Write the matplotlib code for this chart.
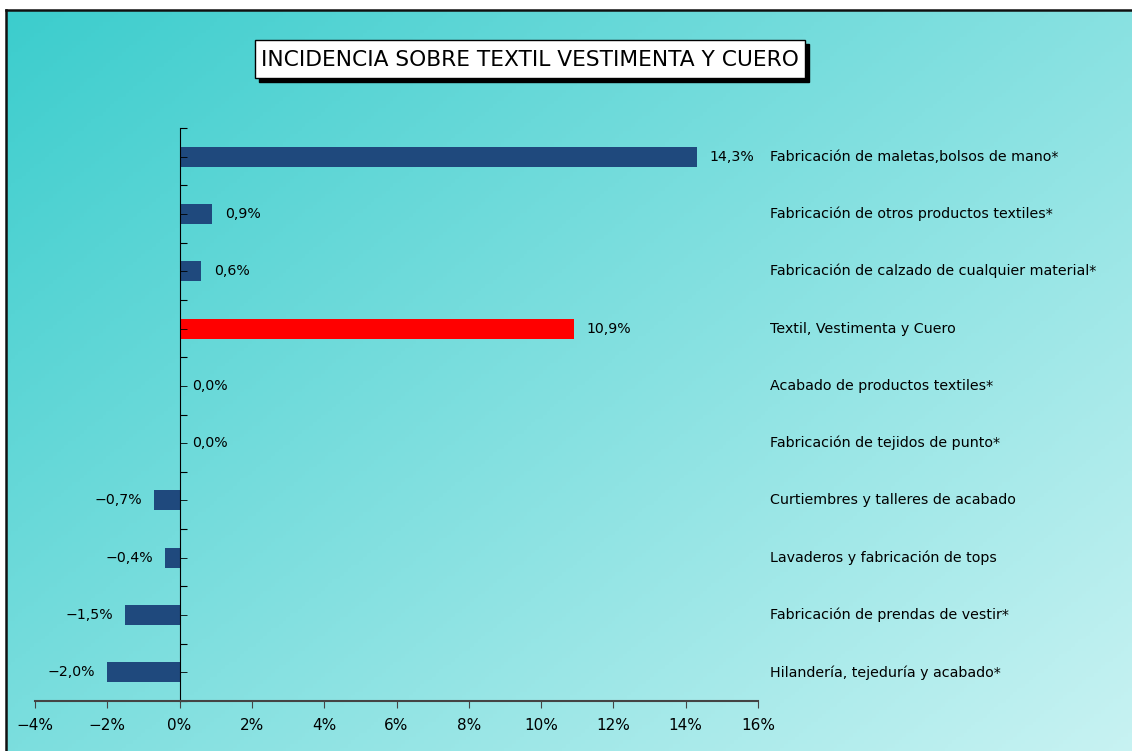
import numpy as np
import matplotlib.pyplot as plt
from matplotlib.patches import Rectangle
from matplotlib.lines import Line2D
from matplotlib.ticker import FixedLocator, FuncFormatter

# Datos
categorias = ['Fabricación de maletas,bolsos de mano*',
              'Fabricación de otros productos textiles*',
              'Fabricación de calzado de cualquier material*',
              'Textil, Vestimenta y Cuero',
              'Acabado de productos textiles*',
              'Fabricación de tejidos de punto*',
              'Curtiembres y talleres de acabado',
              'Lavaderos y fabricación de tops',
              'Fabricación de prendas de vestir*',
              'Hilandería, tejeduría y acabado*']
valores = [14.3, 0.9, 0.6, 10.9, 0.0, 0.0, -0.7, -0.4, -1.5, -2.0]
colores = ['#1F497D', '#1F497D', '#1F497D', '#FF0000', '#1F497D',
           '#1F497D', '#1F497D', '#1F497D', '#1F497D', '#1F497D']
titulo = 'INCIDENCIA SOBRE TEXTIL VESTIMENTA Y CUERO'

W, H = 1132, 751
fig = plt.figure(figsize=(W / 100, H / 100), dpi=100)
fig.patch.set_facecolor('white')

# fondo degradado (se sale un poco de la figura para no dejar borde)
bg = fig.add_axes([7 / W, -0.01, 1 - 7 / W + 0.02, 1 - 11 / H + 0.01], zorder=-10)
gx, gy = np.meshgrid(np.linspace(0, 1, 300), np.linspace(0, 1, 200))
t = np.clip(0.55 * gx + 0.45 * gy, 0, 1)
c0 = np.array([0x3c, 0xcd, 0xcd]) / 255
c1 = np.array([0xca, 0xf3, 0xf3]) / 255
img = c0[None, None, :] * (1 - t[..., None]) + c1[None, None, :] * t[..., None]
bg.imshow(img, aspect='auto', extent=[0, 1, 1, 0])
bg.set_axis_off()
fig.add_artist(Line2D([6 / W, 6 / W], [0, 1 - 10 / H], color='#111111', lw=1.8,
                      transform=fig.transFigure))
fig.add_artist(Line2D([6 / W, 1], [1 - 10 / H, 1 - 10 / H], color='#111111', lw=1.8,
                      transform=fig.transFigure))

# titulo con sombra
bx0, by0, bw, bh = 255, 40, 550, 38
fig.add_artist(Rectangle(((bx0 + 4) / W, 1 - (by0 + bh + 4) / H), bw / W, bh / H,
                         transform=fig.transFigure, facecolor='black', edgecolor='black'))
fig.add_artist(Rectangle((bx0 / W, 1 - (by0 + bh) / H), bw / W, bh / H,
                         transform=fig.transFigure, facecolor='white', edgecolor='black', lw=1))
fig.text((bx0 + bw / 2) / W, 1 - (by0 + bh / 2 + 1) / H, titulo, ha='center', va='center',
         fontsize=15.7, color='black')

ax = fig.add_axes([35 / W, 50 / H, 723 / W, 573 / H])
ax.set_facecolor('none')
y = np.arange(len(categorias))
ax.barh(y, valores, height=0.35, color=colores, edgecolor='none')
ax.set_xlim(-4, 16)
ax.set_ylim(len(categorias) - 0.5, -0.5)

for spine in ['top', 'right']:
    ax.spines[spine].set_visible(False)
ax.spines['left'].set_position(('data', 0))
ax.spines['bottom'].set_color('#444444')
ax.spines['bottom'].set_linewidth(1.5)

ax.xaxis.set_major_locator(FixedLocator(np.arange(-4, 17, 2)))
ax.xaxis.set_major_formatter(FuncFormatter(lambda v, p: f'{v:.0f}%'.replace('-', '\u2212')))
ax.tick_params(axis='x', direction='out', length=5, color='#444444', labelsize=11, pad=7)

ax.yaxis.set_major_locator(FixedLocator(np.arange(-0.5, len(categorias), 1)))
ax.yaxis.set_minor_locator(FixedLocator(y))
ax.tick_params(axis='y', which='both', direction='in', length=5, labelleft=False)

for i, (v, nombre) in enumerate(zip(valores, categorias)):
    txt = f'{v:.1f}%'.replace('.', ',').replace('-', '\u2212')
    if v >= 0:
        ax.annotate(txt, (v, i), xytext=(9, 0), textcoords='offset points',
                    ha='left', va='center', fontsize=10.2)
    else:
        ax.annotate(txt, (v, i), xytext=(-9, 0), textcoords='offset points',
                    ha='right', va='center', fontsize=10.2)
    ax.text(16.33, i, nombre, ha='left', va='center', fontsize=10.3, clip_on=False)

fig.savefig('out.png', dpi=100)
